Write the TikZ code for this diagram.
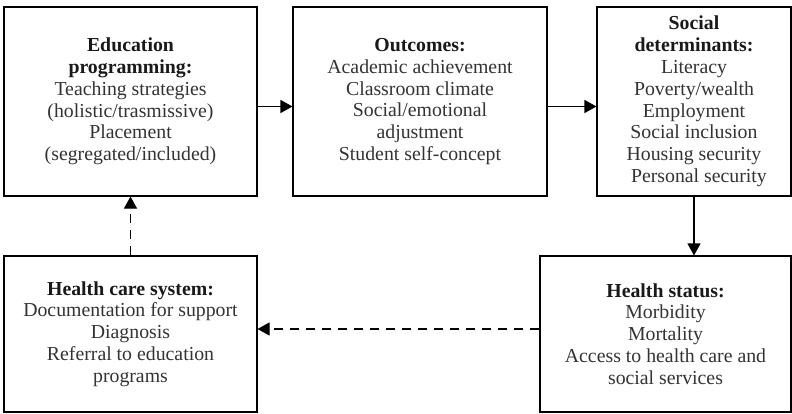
\documentclass[tikz,border=0pt]{standalone}
\usepackage{fontspec}
\setmainfont{Liberation Serif}
\usetikzlibrary{arrows.meta}
\newcommand{\boxhead}[1]{{\bfseries\color{black!90}#1}}

\begin{document}
\begin{tikzpicture}[x=1pt, y=1pt,
	box/.style={draw, line width=1.1pt, align=center, inner sep=0pt, text=black!80,
		font=\fontsize{19.8}{21.8}\selectfont},
	link/.style={line width=1.1pt, -{Triangle[length=12pt, width=13pt]}},
	dlink/.style={link, dash pattern=on 9pt off 7pt}]
	\useasboundingbox (0,0) rectangle (792,413);
	% top row
	\node[box, minimum width=253pt, minimum height=189pt] (edu) at (130.5,311.5)
		{\boxhead{Education}\\ \boxhead{programming:}\\ Teaching strategies\\ (holistic/trasmissive)\\ Placement\\ (segregated/included)};
	\node[box, minimum width=254pt, minimum height=189pt] (out) at (420,311.5)
		{\boxhead{Outcomes:}\\ Academic achievement\\ Classroom climate\\ Social/emotional\\ adjustment\\ Student self-concept};
	\node[box, minimum width=194pt, minimum height=189pt] (soc) at (694,311.5)
		{\boxhead{Social}\\ \boxhead{determinants:}\\ Literacy\\ Poverty/wealth\\ Employment\\ Social inclusion\\ Housing security\\ \hspace{0.5em}Personal security};
	% bottom row
	\node[box, minimum width=253pt, minimum height=156pt] (care) at (130.5,79)
		{\boxhead{Health care system:}\\ Documentation for support\\ Diagnosis\\ Referral to education\\ programs};
	\node[box, minimum width=251pt, minimum height=156pt] (stat) at (665.5,79)
		{\boxhead{Health status:}\\ Morbidity\\ Mortality\\ Access to health care and\\ social services};
	% connectors
	\draw[link] ([yshift=-5pt]edu.east) -- ([yshift=-5pt]out.west);
	\draw[link] ([yshift=-5pt]out.east) -- ([yshift=-5pt]soc.west);
	\draw[link] (soc.south) -- (soc.south |- stat.north);
	\draw[dlink] ([yshift=5pt]stat.west) -- ([yshift=5pt]care.east);
	\draw[dlink] (care.north) -- (edu.south);
\end{tikzpicture}
\end{document}
